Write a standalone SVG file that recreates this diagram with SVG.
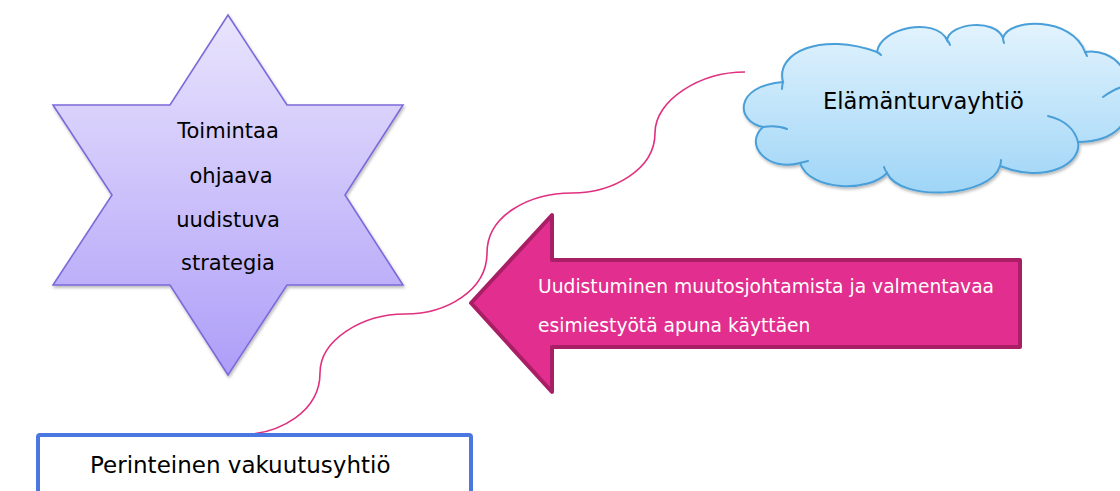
<svg xmlns="http://www.w3.org/2000/svg" width="1120" height="491" viewBox="0 0 1120 491">
  <style>
    .label { font-family: "DejaVu Sans", "Liberation Sans", sans-serif; fill: #000; }
    .white { fill: #fff; }
    .link { fill: none; stroke: #e0307f; stroke-width: 1.6; }
    .cloud-line { fill: none; stroke: #4a9fd8; stroke-width: 2; stroke-linecap: round; }
  </style>
  <defs>
    <linearGradient id="starFill" x1="0" y1="0" x2="0" y2="1">
      <stop offset="0" stop-color="#e9e4fd"/>
      <stop offset="1" stop-color="#ae9ef8"/>
    </linearGradient>
    <linearGradient id="cloudFill" x1="0" y1="0" x2="0" y2="1">
      <stop offset="0" stop-color="#e2f3fd"/>
      <stop offset="1" stop-color="#9fd5f7"/>
    </linearGradient>
    <filter id="shadow" x="-10%" y="-10%" width="125%" height="125%">
      <feDropShadow dx="1" dy="2" stdDeviation="1.5" flood-color="#000" flood-opacity="0.28"/>
    </filter>
  </defs>

  <rect width="1120" height="491" fill="#fff"/>

  <!-- connectors: curved line from the cloud down to the box -->
  <g id="connectors">
    <path class="link" d="M745,72 C700,72 655,100 655,133 C655,170 612,193 572,193 C530,193 487,215 487,253 C487,290 447,314 405,314 C362,314 320,340 320,373 C320,410 282,435 237,435"/>
  </g>

  <!-- six-pointed star -->
  <g id="strategy">
    <polygon points="228,15 287,105 403,105 345,195 403,285 287,285 228,375 170,285 53,285 112,195 53,105 170,105"
             fill="url(#starFill)" stroke="#7c6ad9" stroke-width="1.6" stroke-linejoin="miter" filter="url(#shadow)"/>
    <text class="label" font-size="21" text-anchor="middle" x="228" y="138">Toimintaa</text>
    <text class="label" font-size="21" text-anchor="middle" x="231" y="183">ohjaava</text>
    <text class="label" font-size="21" text-anchor="middle" x="228" y="227">uudistuva</text>
    <text class="label" font-size="21" text-anchor="middle" x="228" y="270">strategia</text>
  </g>

  <!-- cloud -->
  <g id="life-insurer">
    <path d="M763,127 C736,122 733,86 783,82 C775,52 822,32 877,52 C880,28 935,16 947,40 C950,23 995,18 1003,38 C1008,18 1072,16 1085,52 C1115,48 1135,75 1125,98 C1135,120 1115,142 1078,142 C1082,164 1045,184 1000,166 C990,198 900,202 887,173 C870,192 810,192 800,163 C768,172 743,145 763,127 Z"
          fill="url(#cloudFill)" stroke="#4a9fd8" stroke-width="2" filter="url(#shadow)"/>
    <path class="cloud-line" d="M763,127 C770,126 780,126 787,129"/>
    <path class="cloud-line" d="M783,82 Q782,86 782,89"/>
    <path class="cloud-line" d="M877,52 Q879,53 881,55"/>
    <path class="cloud-line" d="M947,40 Q949,42 950,45"/>
    <path class="cloud-line" d="M1003,38 Q1003,40 1004,43"/>
    <path class="cloud-line" d="M1085,52 Q1086,54 1087,56"/>
    <path class="cloud-line" d="M1103,97 C1110,92 1115,89 1122,87"/>
    <path class="cloud-line" d="M1048,116 C1065,120 1075,130 1078,142"/>
    <path class="cloud-line" d="M1000,166 Q1001,163 1001,160"/>
    <path class="cloud-line" d="M887,173 Q885,170 884,167"/>
    <path class="cloud-line" d="M800,163 Q804,162 808,161"/>
    <text class="label" font-size="22.6" x="823" y="109">Elämänturvayhtiö</text>
  </g>

  <!-- left-pointing block arrow -->
  <g id="renewal">
    <polygon points="471,303 552,215 552,260 1020,260 1020,347 552,347 552,392"
             fill="#e22e8e" stroke="#a81f66" stroke-width="4" stroke-linejoin="round"/>
    <text class="label white" font-size="18.7" x="538" y="293">Uudistuminen muutosjohtamista ja valmentavaa</text>
    <text class="label white" font-size="18.7" x="538" y="332">esimiestyötä apuna käyttäen</text>
  </g>

  <!-- box at the bottom -->
  <g id="traditional-insurer">
    <rect x="38" y="435" width="433" height="70" rx="2" fill="#fff" stroke="#4a78e0" stroke-width="4"/>
    <text class="label" font-size="23" x="90" y="473">Perinteinen vakuutusyhtiö</text>
  </g>
</svg>
